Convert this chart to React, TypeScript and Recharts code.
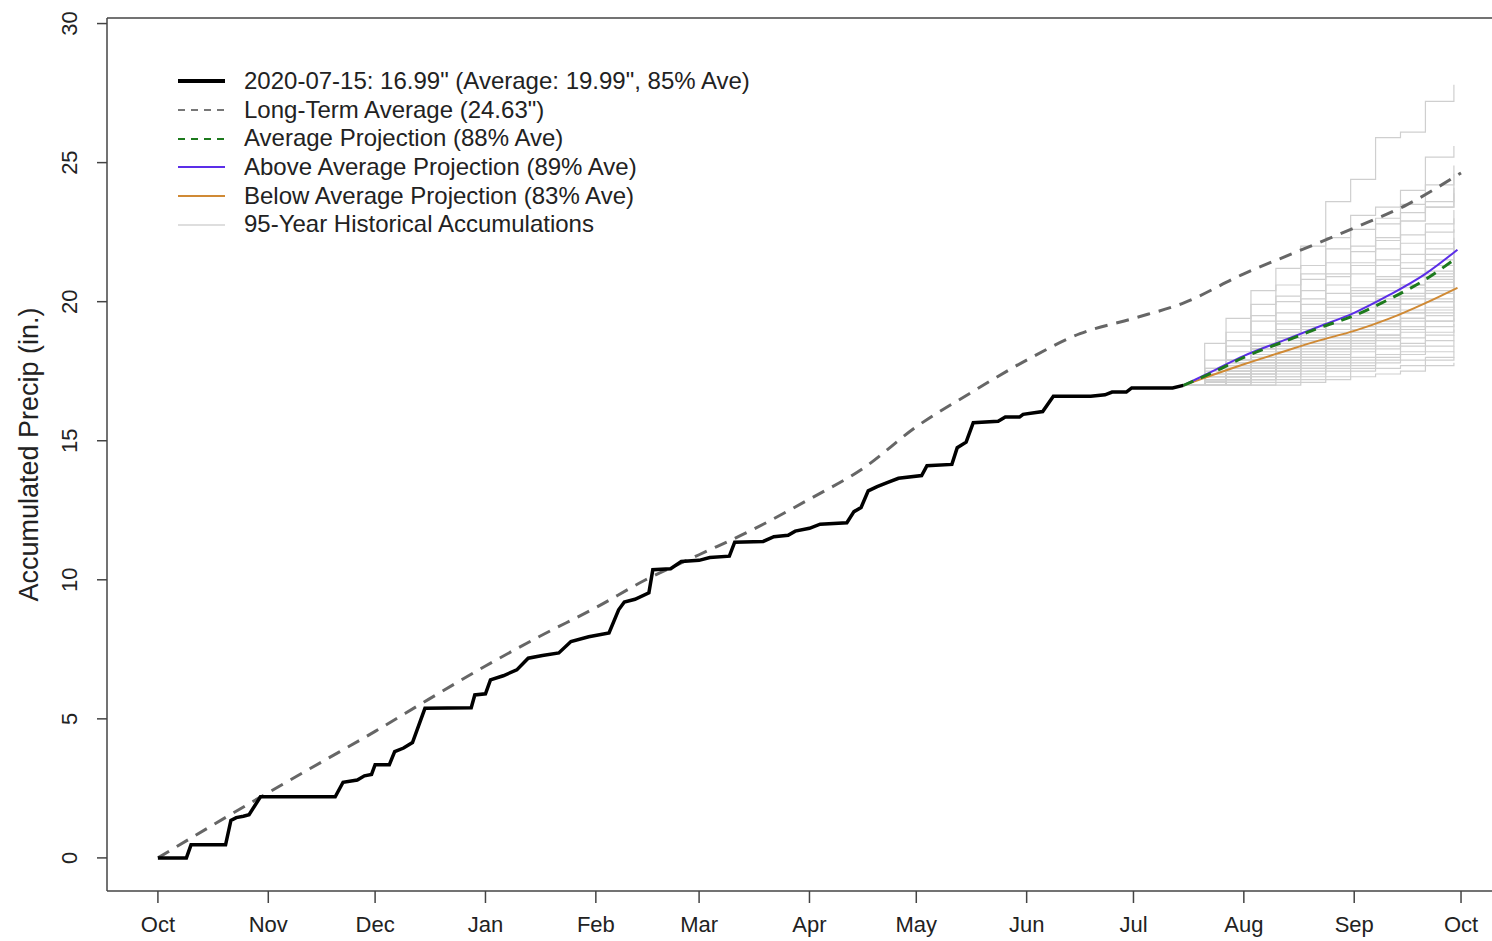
import { LineChart, Line, XAxis, YAxis, ReferenceLine, Legend, Label } from "recharts";

// water-year days since Oct 1 (2019-2020, leap year)
const MONTH_TICKS = [0, 31, 61, 92, 123, 152, 183, 213, 244, 274, 305, 336, 366];
const MONTH_LABELS = ["Oct", "Nov", "Dec", "Jan", "Feb", "Mar", "Apr", "May", "Jun", "Jul", "Aug", "Sep", "Oct"];
const Y_TICKS = [0, 5, 10, 15, 20, 25, 30];

// observed accumulation through 2020-07-15
const OBS_DAYS = [0, 8, 9.3, 19, 20.5, 22, 24, 25.6, 28.8, 49.8, 52, 56, 58, 60, 61, 65, 66.5, 69, 71.5, 75, 88, 89, 92, 93.4, 97, 100.8, 104, 108, 112.6, 116, 121, 126.7, 129.4, 131, 134, 137.9, 139, 144, 147, 152, 155, 160.5, 162, 170, 173, 177, 179, 183, 186, 193.5, 195.5, 197.5, 199.5, 202, 205, 208, 214.5, 216, 223, 224.5, 227, 229, 236, 238, 242, 243, 248.5, 251.5, 262, 266, 268, 272, 273.5, 285, 288];
const OBS_VALUES = [0, 0, 0.47, 0.47, 1.35, 1.45, 1.5, 1.55, 2.2, 2.2, 2.72, 2.8, 2.95, 3.0, 3.35, 3.35, 3.82, 3.95, 4.15, 5.38, 5.4, 5.86, 5.9, 6.4, 6.55, 6.76, 7.18, 7.28, 7.37, 7.78, 7.95, 8.09, 8.92, 9.2, 9.3, 9.53, 10.36, 10.4, 10.66, 10.7, 10.8, 10.85, 11.35, 11.38, 11.55, 11.6, 11.75, 11.85, 12.0, 12.05, 12.45, 12.6, 13.2, 13.35, 13.5, 13.65, 13.75, 14.1, 14.15, 14.75, 14.95, 15.65, 15.7, 15.85, 15.85, 15.95, 16.05, 16.6, 16.6, 16.65, 16.75, 16.75, 16.9, 16.9, 16.99];

// long-term average
const AVG_DAYS = [0, 15, 31, 46, 61, 76, 92, 107, 123, 137, 152, 167, 183, 198, 213, 228, 244, 259, 274, 288, 305, 320, 336, 351, 366];
const AVG_VALUES = [0, 1.15, 2.35, 3.45, 4.55, 5.7, 6.9, 7.95, 9.0, 10.0, 10.9, 11.8, 12.9, 14.0, 15.5, 16.7, 17.9, 18.85, 19.4, 19.95, 21.0, 21.8, 22.65, 23.5, 24.63];

// projections from 2020-07-15
const PROJ_DAYS = [288, 297, 305, 316, 326, 336, 346, 356, 365];
const PROJ_AVG = [16.99, 17.5, 18.0, 18.55, 19.05, 19.5, 20.1, 20.8, 21.6];
const PROJ_ABOVE = [16.99, 17.55, 18.05, 18.6, 19.1, 19.6, 20.25, 21.0, 21.87];
const PROJ_BELOW = [16.99, 17.4, 17.75, 18.2, 18.6, 18.95, 19.4, 19.95, 20.5];

// historical accumulations started from today's value
const HIST_DAYS = [288, 294, 300, 307, 314, 321, 328, 335, 342, 349, 356, 364];
const HIST = [
  [16.99, 18.5, 19.4, 20.4, 21.2, 22.0, 23.6, 24.4, 25.9, 26.1, 27.2, 27.8],
  [16.99, 17.4, 18.2, 19.3, 20.0, 21.0, 22.3, 23.1, 23.4, 24.0, 25.2, 25.6],
  [16.99, 17.9, 18.9, 19.9, 20.6, 21.3, 21.9, 22.6, 23.0, 23.5, 24.2, 24.6],
  [16.99, 17.2, 17.8, 18.4, 19.6, 20.4, 21.0, 22.0, 22.8, 23.2, 23.6, 24.9],
  [16.99, 17.6, 18.6, 19.5, 20.2, 20.8, 21.4, 21.8, 22.3, 22.9, 23.4, 24.1],
  [16.99, 17.3, 17.9, 18.9, 19.2, 20.1, 20.9, 21.3, 22.2, 22.9, 23.4, 23.9],
  [16.99, 17.1, 17.5, 18.1, 18.9, 19.5, 20.6, 21.4, 21.9, 22.4, 22.8, 23.3],
  [16.99, 17.6, 18.4, 18.8, 19.3, 19.9, 20.3, 21.0, 21.5, 22.1, 22.5, 23.0],
  [16.99, 17.0, 17.6, 18.3, 18.7, 19.6, 20.0, 20.4, 21.3, 21.7, 22.1, 22.6],
  [16.99, 17.2, 17.7, 18.0, 18.6, 19.0, 19.8, 20.5, 20.9, 21.4, 21.9, 22.3],
  [16.99, 17.4, 17.8, 18.5, 19.0, 19.4, 19.9, 20.3, 20.8, 21.2, 21.7, 22.2],
  [16.99, 17.3, 17.6, 18.2, 18.9, 19.3, 19.6, 20.2, 20.7, 21.0, 21.5, 22.0],
  [16.99, 17.2, 17.9, 18.3, 18.8, 19.2, 19.6, 20.0, 20.5, 20.9, 21.3, 21.9],
  [16.99, 17.1, 17.4, 17.9, 18.4, 18.8, 19.5, 19.9, 20.4, 20.9, 21.3, 21.8],
  [16.99, 17.5, 17.9, 18.4, 18.7, 19.1, 19.4, 19.8, 20.1, 20.6, 21.1, 21.6],
  [16.99, 17.1, 17.4, 18.1, 18.5, 18.9, 19.2, 19.6, 20.2, 20.6, 21.0, 21.5],
  [16.99, 17.0, 17.3, 17.8, 18.2, 18.6, 19.2, 19.6, 20.0, 20.5, 20.9, 21.4],
  [16.99, 17.2, 17.5, 17.9, 18.1, 18.7, 19.0, 19.3, 19.9, 20.3, 20.8, 21.2],
  [16.99, 17.3, 17.5, 17.8, 18.3, 18.7, 19.0, 19.5, 19.8, 20.2, 20.7, 21.1],
  [16.99, 17.1, 17.6, 18.0, 18.4, 18.6, 18.9, 19.4, 19.7, 20.1, 20.5, 21.0],
  [16.99, 17.0, 17.2, 17.6, 18.0, 18.5, 18.8, 19.1, 19.6, 19.9, 20.3, 20.8],
  [16.99, 17.0, 17.3, 17.7, 18.1, 18.4, 18.8, 19.2, 19.5, 19.9, 20.4, 20.7],
  [16.99, 17.3, 17.7, 17.9, 18.2, 18.4, 18.7, 19.0, 19.3, 19.7, 20.1, 20.6],
  [16.99, 17.1, 17.3, 17.6, 17.9, 18.3, 18.6, 18.9, 19.2, 19.6, 20.0, 20.4],
  [16.99, 17.1, 17.4, 17.6, 17.9, 18.2, 18.6, 18.9, 19.3, 19.6, 20.0, 20.3],
  [16.99, 17.0, 17.4, 17.7, 18.0, 18.2, 18.5, 18.8, 19.1, 19.4, 19.8, 20.2],
  [16.99, 17.2, 17.3, 17.5, 17.8, 18.1, 18.4, 18.7, 19.0, 19.3, 19.6, 20.0],
  [16.99, 17.2, 17.3, 17.6, 17.8, 18.0, 18.3, 18.6, 19.0, 19.4, 19.7, 19.9],
  [16.99, 17.0, 17.2, 17.5, 17.7, 17.9, 18.3, 18.6, 18.8, 19.1, 19.5, 19.8],
  [16.99, 17.1, 17.3, 17.4, 17.6, 17.9, 18.1, 18.4, 18.7, 19.0, 19.3, 19.6],
  [16.99, 17.0, 17.2, 17.4, 17.7, 18.0, 18.2, 18.5, 18.8, 19.0, 19.3, 19.5],
  [16.99, 17.0, 17.1, 17.3, 17.6, 17.8, 18.0, 18.3, 18.6, 18.9, 19.1, 19.4],
  [16.99, 17.0, 17.2, 17.4, 17.5, 17.7, 17.9, 18.2, 18.4, 18.7, 18.9, 19.2],
  [16.99, 17.1, 17.2, 17.3, 17.5, 17.6, 17.8, 18.0, 18.3, 18.5, 18.8, 19.0],
  [16.99, 17.0, 17.1, 17.2, 17.4, 17.6, 17.7, 17.9, 18.1, 18.4, 18.6, 18.8],
  [16.99, 17.0, 17.0, 17.2, 17.3, 17.5, 17.7, 17.8, 18.0, 18.2, 18.4, 18.6],
  [16.99, 17.0, 17.1, 17.2, 17.3, 17.4, 17.6, 17.7, 17.9, 18.1, 18.2, 18.4],
  [16.99, 16.99, 17.0, 17.1, 17.2, 17.3, 17.5, 17.6, 17.8, 17.9, 18.0, 18.2],
  [16.99, 16.99, 17.0, 17.0, 17.1, 17.2, 17.3, 17.5, 17.6, 17.7, 17.9, 18.0],
  [16.99, 16.99, 16.99, 17.0, 17.0, 17.1, 17.2, 17.3, 17.4, 17.5, 17.7, 17.8],
];

const LEGEND_ITEMS = [
  { label: "2020-07-15: 16.99\" (Average: 19.99\", 85% Ave)", color: "#000", width: 4, dash: "" },
  { label: "Long-Term Average (24.63\")", color: "#777", width: 2, dash: "7 6" },
  { label: "Average Projection (88% Ave)", color: "#1d7a1d", width: 2, dash: "7 6" },
  { label: "Above Average Projection (89% Ave)", color: "#5b2ee8", width: 2, dash: "" },
  { label: "Below Average Projection (83% Ave)", color: "#d08a35", width: 2, dash: "" },
  { label: "95-Year Historical Accumulations", color: "#d3d3d3", width: 1.5, dash: "" },
];

const FONT = "'Liberation Sans', Arial, sans-serif";
const X_DOMAIN = [-14.3, 374.7];
const Y_DOMAIN = [-1.19, 30.2];

const zip = (days: number[], vals: number[]) => days.map((d, i) => ({ day: d, v: vals[i] }));

const obsData = zip(OBS_DAYS, OBS_VALUES);
const avgData = zip(AVG_DAYS, AVG_VALUES);
const projAvgData = zip(PROJ_DAYS, PROJ_AVG);
const projAboveData = zip(PROJ_DAYS, PROJ_ABOVE);
const projBelowData = zip(PROJ_DAYS, PROJ_BELOW);
const histData = HIST.map((vals) => zip(HIST_DAYS, vals));

function YTick(props: any) {
  const { y, payload } = props;
  return (
    <text x={70} y={y} transform={`rotate(-90 70 ${y})`} textAnchor="middle" dominantBaseline="central"
      fontSize={22} fontFamily={FONT} fill="#222">
      {payload.value}
    </text>
  );
}

function renderLegend() {
  return (
    <div style={{ fontFamily: FONT, fontSize: 24, color: "#222" }}>
      {LEGEND_ITEMS.map((it) => (
        <div key={it.label} style={{ display: "flex", alignItems: "center", height: 28.7 }}>
          <svg width={74} height={12}>
            <line x1={8} x2={55} y1={6} y2={6} stroke={it.color} strokeWidth={it.width} strokeDasharray={it.dash} />
          </svg>
          <span style={{ whiteSpace: "nowrap", lineHeight: "28.7px" }}>{it.label}</span>
        </div>
      ))}
    </div>
  );
}

export default function App() {
  return (
    <div style={{ position: "absolute", left: 0, top: 0, width: 1492, height: 941, overflow: "hidden", background: "#fff" }}>
      <LineChart width={1492} height={941} margin={{ top: 18, right: 0, bottom: 0, left: 0 }}>
        <XAxis type="number" dataKey="day" domain={X_DOMAIN} allowDataOverflow ticks={MONTH_TICKS}
          tickFormatter={(v: number) => MONTH_LABELS[MONTH_TICKS.indexOf(v)]} height={50}
          stroke="#444" strokeWidth={1.5} tickSize={12} tickMargin={13}
          tick={{ fontSize: 22, fontFamily: FONT, fill: "#222" }} interval={0} />
        <YAxis type="number" domain={Y_DOMAIN} allowDataOverflow ticks={Y_TICKS} width={107}
          stroke="#444" strokeWidth={1.5} tickSize={10} tick={<YTick />} interval={0}>
          <Label value="Accumulated Precip (in.)" angle={-90} position="center" dx={-25.5}
            style={{ fontSize: 27, fontFamily: FONT, fill: "#222" }} />
        </YAxis>
        <ReferenceLine y={30.2} stroke="#444" strokeWidth={1.5} />
        {histData.map((d, i) => (
          <Line key={"h" + i} data={d} dataKey="v" type="stepAfter" stroke="#cfcfcf" strokeWidth={1.2}
            dot={false} isAnimationActive={false} legendType="none" />
        ))}
        <Line data={avgData} dataKey="v" type="monotone" stroke="#666" strokeWidth={3} strokeDasharray="13 9"
          dot={false} isAnimationActive={false} />
        <Line data={projBelowData} dataKey="v" type="monotone" stroke="#d08a35" strokeWidth={2}
          dot={false} isAnimationActive={false} />
        <Line data={projAboveData} dataKey="v" type="monotone" stroke="#5b2ee8" strokeWidth={2}
          dot={false} isAnimationActive={false} />
        <Line data={projAvgData} dataKey="v" type="monotone" stroke="#1d7a1d" strokeWidth={3} strokeDasharray="11 8"
          dot={false} isAnimationActive={false} />
        <Line data={obsData} dataKey="v" type="linear" stroke="#000" strokeWidth={3.5}
          dot={false} isAnimationActive={false} />
        <Legend layout="horizontal" verticalAlign="middle" align="center" content={renderLegend}
          wrapperStyle={{ left: 170, top: 67, width: "auto" }} />
      </LineChart>
    </div>
  );
}
